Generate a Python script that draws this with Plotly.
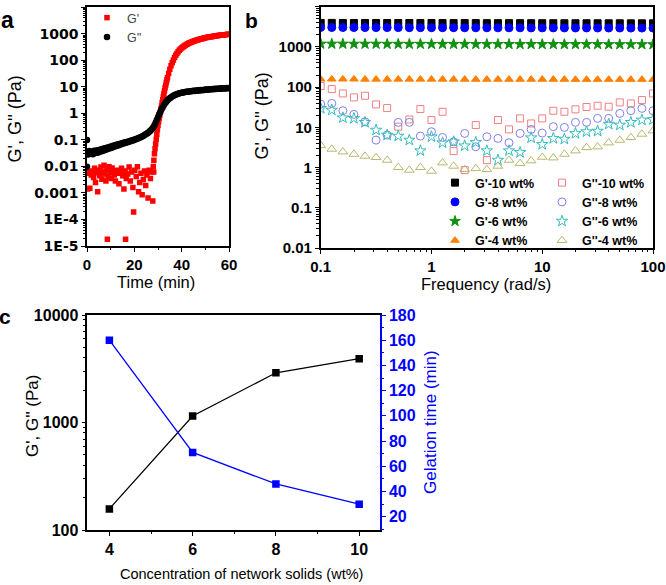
import plotly.graph_objects as go

# ---------------- Panel a: time sweep ----------------
a_gpp_time = [0, 0,
    0, 0.5, 1, 1.5, 2, 2.5, 3, 3.5, 4, 4.5,
    5, 5.5, 6, 6.5, 7, 7.5, 8, 8.5, 9, 9.5,
    10, 10.5, 11, 11.5, 12, 12.5, 13, 13.5, 14, 14.5,
    15, 15.5, 16, 16.5, 17, 17.5, 18, 18.5, 19, 19.5,
    20, 20.5, 21, 21.5, 22, 22.5, 23, 23.5, 24, 24.5,
    25, 25.5, 26, 26.5, 27, 27.5, 28, 28.5, 29, 29.5,
    30, 30.5, 31, 31.5, 32, 32.5, 33, 33.5, 34, 34.5,
    35, 35.5, 36, 36.5, 37, 37.5, 38, 38.5, 39, 39.5,
    40, 40.5, 41, 41.5, 42, 42.5, 43, 43.5, 44, 44.5,
    45, 45.5, 46, 46.5, 47, 47.5, 48, 48.5, 49, 49.5,
    50, 50.5, 51, 51.5, 52, 52.5, 53, 53.5, 54, 54.5,
    55, 55.5, 56, 56.5, 57, 57.5, 58, 58.5, 59, 59.5,
    60]
a_gpp_val = [0.1, 0.0098,
    0.036, 0.028, 0.038, 0.030, 0.035, 0.029, 0.039, 0.032, 0.040, 0.033,
    0.042, 0.036, 0.044, 0.038, 0.047, 0.041, 0.050, 0.044, 0.053, 0.047,
    0.057, 0.051, 0.060, 0.055, 0.064, 0.059, 0.068, 0.063, 0.072, 0.068,
    0.077, 0.073, 0.081, 0.078, 0.086, 0.083, 0.091, 0.089, 0.097, 0.096,
    0.104, 0.103, 0.111, 0.112, 0.120, 0.123, 0.131, 0.137, 0.146, 0.155,
    0.166, 0.178, 0.192, 0.21, 0.23, 0.26, 0.30, 0.36, 0.44, 0.56,
    0.72, 0.92, 1.15, 1.42, 1.72, 2.05, 2.4, 2.75, 3.1, 3.45,
    3.75, 4.05, 4.35, 4.6, 4.85, 5.1, 5.3, 5.5, 5.7, 5.85,
    6.0, 6.15, 6.3, 6.4, 6.5, 6.6, 6.7, 6.8, 6.9, 7.0,
    7.1, 7.0, 7.3, 7.2, 7.4, 7.3, 7.6, 7.5, 7.7, 7.6,
    7.9, 7.8, 8.0, 7.9, 8.2, 8.1, 8.3, 8.2, 8.4, 8.3,
    8.5, 8.4, 8.7, 8.5, 8.8, 8.6, 8.9, 8.7, 9.0, 8.8,
    9.1]

# G' before gelation (scattered noise)
a_gp_noise_time = [0.2, 0.3, 0.8, 1.2, 1.8, 2.2, 2.8, 3.2, 3.6, 4.1,
    4.5, 5.0, 5.4, 5.9, 6.3, 6.8, 7.2, 7.6, 8.0, 8.4,
    8.6, 8.9, 9.3, 9.8, 10.2, 10.6, 11.0, 11.5, 12.0, 12.4,
    12.9, 13.5, 14.0, 14.6, 15.1, 15.6, 16.1, 16.3, 16.6, 17.2,
    17.8, 18.3, 18.8, 19.4, 19.7, 20.2, 20.8, 21.3, 21.8, 22.3,
    22.8, 23.3, 23.8, 24.3, 24.8, 25.3, 25.8, 26.3, 26.8, 27.3,
    27.8, 28.2]
a_gp_noise_val = [0.0055, 0.0014, 0.0062, 0.0015, 0.0048, 0.0068, 0.0038, 0.0085, 0.0025, 0.0058,
    0.0011, 0.0072, 0.0045, 0.0095, 0.0033, 0.0062, 0.011, 0.0052, 0.0028, 0.0078,
    1.8e-5, 0.0042, 0.0098, 0.0058, 0.0035, 0.0088, 0.0066, 0.0048, 0.0028, 0.0072,
    0.0055, 0.0022, 0.0062, 0.0085, 0.0045, 0.0014, 0.0068, 1.8e-5, 0.0035, 0.0052,
    0.0095, 0.0028, 0.0062, 0.0016, 1.9e-4, 0.0072, 0.0042, 0.0098, 0.0011, 0.0025,
    0.0055, 0.00085, 0.0032, 0.0068, 0.0019, 0.0048, 0.00065, 0.0072, 0.0035, 0.0062,
    0.0005, 0.0062]

# G' after gelation onset
a_gp_time = [28, 28.25, 28.5, 28.75, 29, 29.25, 29.5, 29.75, 30, 30.25,
    30.5, 30.75, 31, 31.25, 31.5, 31.75, 32, 32.25, 32.5, 32.75,
    33, 33.25, 33.5, 33.75, 34, 34.5, 35, 35.5, 36, 36.5,
    37, 37.5, 38, 38.5, 39, 39.5, 40, 40.5, 41, 41.5,
    42, 42.5, 43, 43.5, 44, 44.5, 45, 45.5, 46, 46.5,
    47, 47.5, 48, 48.5, 49, 49.5, 50, 50.5, 51, 51.5,
    52, 52.5, 53, 53.5, 54, 54.5, 55, 55.5, 56, 56.5,
    57, 57.5, 58, 58.5, 59, 59.5, 60]
a_gp_val = [0.01, 0.017, 0.03, 0.046, 0.07, 0.105, 0.16, 0.24, 0.35, 0.48,
    0.65, 0.85, 1.1, 1.45, 1.9, 2.5, 3.3, 4.3, 5.6, 7.2,
    9.2, 11.6, 14.5, 18, 22, 32, 46, 62, 82, 104,
    128, 155, 182, 210, 238, 265, 292, 318, 343, 368,
    392, 415, 438, 460, 482, 503, 524, 544, 564, 583,
    602, 620, 638, 656, 673, 690, 706, 722, 738, 753,
    768, 782, 796, 810, 823, 836, 849, 862, 874, 886,
    898, 910, 921, 932, 943, 954, 965]

a_y_tickvals = [1e-5, 1e-4, 1e-3, 1e-2, 0.1, 1, 10, 100, 1000, 10000]
a_y_ticktext = ["1E-5", "1E-4", "0.001", "0.01", "0.1", "1", "10", "100", "1000", "10000"]

# ---------------- Panel b: frequency sweep ----------------
b_freq = [0.1, 0.1259, 0.1585, 0.1995, 0.2512, 0.3162, 0.3981, 0.5012, 0.631, 0.7943,
    1.0, 1.259, 1.585, 1.995, 2.512, 3.162, 3.981, 5.012, 6.31, 7.943,
    10.0, 12.59, 15.85, 19.95, 25.12, 31.62, 39.81, 50.12, 63.1, 79.43, 100.0]
b_gp_10 = [3950, 3950, 3940, 3940, 3940, 3930, 3930, 3930, 3920, 3920,
    3920, 3920, 3910, 3910, 3910, 3900, 3900, 3900, 3900, 3890,
    3890, 3890, 3880, 3880, 3880, 3870, 3870, 3870, 3860, 3860, 3860]
b_gp_8 = [3050, 3040, 3040, 3030, 3030, 3020, 3020, 3020, 3010, 3010,
    3000, 3000, 3000, 2990, 2990, 2990, 2980, 2980, 2980, 2970,
    2970, 2970, 2960, 2960, 2960, 2950, 2950, 2950, 2940, 2940, 2940]
b_gp_6 = [1190, 1190, 1190, 1185, 1185, 1185, 1180, 1180, 1180, 1180,
    1175, 1175, 1175, 1175, 1170, 1170, 1170, 1170, 1165, 1165,
    1165, 1165, 1160, 1160, 1160, 1160, 1155, 1155, 1155, 1155, 1150]
b_gp_4 = [158, 158, 158, 158, 157, 157, 157, 157, 157, 157,
    157, 157, 157, 156, 156, 156, 156, 156, 156, 156,
    156, 156, 156, 155, 155, 155, 155, 155, 155, 155, 155]
b_gpp_10 = [106, 89.5, 69.8, 55.6, 61.1, 37.2, 30.2, 10.4, 15.7, 28.5,
    15.2, 24.4, 2.57, 0.865, 11.4, 1.53, 15.2, 8.9, 16.7, 12.5,
    16.7, 25.9, 24.4, 28, 32, 34.5, 32.5, 41.7, 39.4, 47.7, 69.8]
b_gpp_8 = [37.9, 39.4, 25.9, 21.0, 13.8, 4.82, 6.42, 13.3, 13.3, 6.06,
    7.78, 5.62, 4.38, 7.06, 3.29, 5.84, 5.31, 4.14, 7.06, 8.89,
    7.2, 10.4, 9.96, 13.3, 13.3, 16.7, 16.7, 22.2, 25.9, 29.6, 25.9]
b_gpp_6 = [29.6, 26.9, 17.3, 16.7, 13.3, 8.55, 6.42, 6.06, 4.82, 2.62,
    5.84, 4.14, 4.38, 3.48, 4.22, 2.62, 1.53, 2.62, 2.38, 5.51,
    3.76, 5.31, 5.11, 7.06, 7.78, 8.07, 12.0, 11.4, 13.3, 15.2, 15.7]
b_gpp_4 = [3.55, 2.88, 2.47, 2.16, 1.93, 1.79, 1.53, 1.01, 0.865, 1.01,
    0.817, 1.32, 1.09, 0.90, 0.95, 0.90, 1.09, 1.53, 1.27, 1.48,
    1.82, 1.75, 2.16, 2.62, 3.17, 3.29, 4.14, 4.82, 5.62, 6.81, 8.22]

b_y_tickvals = [0.01, 0.1, 1, 10, 100, 1000, 10000]
b_y_ticktext = ["0.01", "0.1", "1", "10", "100", "1000", "10000"]
b_x_tickvals = [0.1, 1, 10, 100]
b_x_ticktext = ["0.1", "1", "10", "100"]

# ---------------- Panel c: summary ----------------
c_conc = [4, 6, 8, 10]
c_modulus = [157, 1150, 2900, 3920]
c_gel_time = [160, 71, 46, 30]
c_y_tickvals = [100, 1000, 10000]
c_y_ticktext = ["100", "1000", "10000"]

# ---------------- styling ----------------
W, H = 666, 585
FONT = "Liberation Sans, Arial, sans-serif"
BOLD = dict(family=FONT, weight="bold", color="black")


def px_x(p):
    return p / W


def px_y(p):
    return 1 - p / H


fig = go.Figure()

# Panel a
fig.add_trace(go.Scatter(x=a_gp_noise_time, y=a_gp_noise_val, mode="markers", name="G'",
                         marker=dict(symbol="square", size=5.5, color="#FF0000"),
                         xaxis="x", yaxis="y", legend="legend3"))
fig.add_trace(go.Scatter(x=a_gp_time, y=a_gp_val, mode="markers", name="G'", showlegend=False,
                         marker=dict(symbol="square", size=5.5, color="#FF0000"),
                         xaxis="x", yaxis="y", legend="legend3"))
fig.add_trace(go.Scatter(x=a_gpp_time, y=a_gpp_val, mode="markers", name="G''",
                         marker=dict(symbol="circle", size=6.5, color="#000000"),
                         xaxis="x", yaxis="y", legend="legend3"))

# Panel b
b_series = [
    ("G'-10 wt%", b_gp_10, "square", 7, "#000000", "legend"),
    ("G'-8 wt%", b_gp_8, "circle", 8, "#0000FF", "legend"),
    ("G'-6 wt%", b_gp_6, "star", 8, "#109010", "legend"),
    ("G'-4 wt%", b_gp_4, "triangle-up", 7.5, "#FF8000", "legend"),
    ("G''-10 wt%", b_gpp_10, "square-open", 7, "#F08080", "legend2"),
    ("G''-8 wt%", b_gpp_8, "circle-open", 8, "#8080EE", "legend2"),
    ("G''-6 wt%", b_gpp_6, "star-open", 8.5, "#33BBBB", "legend2"),
    ("G''-4 wt%", b_gpp_4, "triangle-up-open", 8.5, "#B8B870", "legend2"),
]
for name, vals, sym, size, col, leg in b_series:
    fig.add_trace(go.Scatter(x=b_freq, y=vals, mode="markers", name=name,
                             marker=dict(symbol=sym, size=size, color=col, line=dict(width=1, color=col)),
                             xaxis="x2", yaxis="y2", legend=leg))

# Panel c
fig.add_trace(go.Scatter(x=c_conc, y=c_modulus, mode="lines+markers", showlegend=False,
                         line=dict(color="#000000", width=1.3),
                         marker=dict(symbol="square", size=7.5, color="#000000"),
                         xaxis="x3", yaxis="y3"))
fig.add_trace(go.Scatter(x=c_conc, y=c_gel_time, mode="lines+markers", showlegend=False,
                         line=dict(color="#0000FF", width=1.3),
                         marker=dict(symbol="square", size=7.5, color="#0000FF"),
                         xaxis="x3", yaxis="y4"))

axis_common = dict(showline=True, linecolor="black", linewidth=1.5, showgrid=False, zeroline=False,
                   ticks="outside", ticklen=4, tickwidth=1.3, tickcolor="black", automargin=False)

fig.update_layout(
    width=W, height=H, margin=dict(l=0, r=0, t=0, b=0, autoexpand=False),
    paper_bgcolor="white", plot_bgcolor="white",
    xaxis=dict(**axis_common, domain=[px_x(87), px_x(229)], range=[0, 60], anchor="y",
               tickvals=[0, 20, 40, 60], mirror=True,
               minor=dict(ticks="outside", ticklen=2.5, dtick=10, tickcolor="black"),
               tickfont=dict(**BOLD, size=15)),
    yaxis=dict(**axis_common, domain=[px_y(246), px_y(7.3)], type="log", range=[-5, 4], anchor="x",
               tickvals=a_y_tickvals, ticktext=a_y_ticktext, mirror=True,
               minor=dict(ticks="outside", ticklen=2.5, dtick="D1", tickcolor="black"),
               tickfont=dict(family="DejaVu Sans", weight="bold", color="black", size=14)),
    xaxis2=dict(**axis_common, domain=[px_x(320.7), px_x(653)], type="log", range=[-1, 2], anchor="y2",
                tickvals=b_x_tickvals, ticktext=b_x_ticktext, mirror=True,
                minor=dict(ticks="outside", ticklen=2.5, dtick="D1", tickcolor="black"),
                tickfont=dict(**BOLD, size=15)),
    yaxis2=dict(**axis_common, domain=[px_y(248), px_y(6.7)], type="log", range=[-2, 4], anchor="x2",
                tickvals=b_y_tickvals, ticktext=b_y_ticktext, mirror=True,
                minor=dict(ticks="outside", ticklen=2.5, dtick="D1", tickcolor="black"),
                tickfont=dict(**BOLD, size=15)),
    xaxis3=dict(**axis_common, domain=[px_x(87.3), px_x(380)], range=[3.47, 10.5], anchor="y3",
                tickvals=c_conc, mirror=True,
                minor=dict(ticks="outside", ticklen=2.5, dtick=1, tickcolor="black"),
                tickfont=dict(**BOLD, size=16)),
    yaxis3=dict(**axis_common, domain=[px_y(530), px_y(315)], type="log", range=[2, 4], anchor="x3",
                tickvals=c_y_tickvals, ticktext=c_y_ticktext,
                minor=dict(ticks="outside", ticklen=2.5, dtick="D1", tickcolor="black"),
                tickfont=dict(**BOLD, size=16)),
    yaxis4=dict(showline=True, linecolor="#0000FF", linewidth=1.5, showgrid=False, zeroline=False,
                ticks="outside", ticklen=4, tickwidth=1.3, tickcolor="#0000FF", automargin=False,
                overlaying="y3", side="right", anchor="x3", range=[9.5, 180], dtick=20, tick0=0,
                minor=dict(ticks="outside", ticklen=2.5, dtick=10, tickcolor="#0000FF"),
                tickfont=dict(family=FONT, weight="bold", color="#0000FF", size=16)),
    legend=dict(x=px_x(435), y=px_y(168), xanchor="left", yanchor="top", bgcolor="rgba(0,0,0,0)",
                font=dict(family=FONT, weight="bold", size=12.5, color="black"), tracegroupgap=0),
    legend2=dict(x=px_x(542), y=px_y(168), xanchor="left", yanchor="top", bgcolor="rgba(0,0,0,0)",
                 font=dict(family=FONT, weight="bold", size=12.5, color="black"), tracegroupgap=0),
    legend3=dict(x=px_x(87), y=px_y(3), xanchor="left", yanchor="top", bgcolor="rgba(0,0,0,0)",
                 font=dict(family=FONT, size=12.5, color="#444444"), tracegroupgap=0),
)

title_font = dict(family=FONT, color="black")
annotations = [
    dict(text="G', G'' (Pa)", x=px_x(15), y=px_y(119.5), textangle=-90, font=dict(**title_font, size=18)),
    dict(text="Time (min)", x=px_x(156), y=px_y(282), font=dict(**title_font, size=16.5)),
    dict(text="G', G'' (Pa)", x=px_x(261.5), y=px_y(116), textangle=-90, font=dict(**title_font, size=18)),
    dict(text="Frequency (rad/s)", x=px_x(486), y=px_y(284), font=dict(**title_font, size=16.5)),
    dict(text="G', G'' (Pa)", x=px_x(32), y=px_y(416), textangle=-90, font=dict(**title_font, size=17)),
    dict(text="Gelation time (min)", x=px_x(430), y=px_y(422), textangle=-90,
         font=dict(family=FONT, color="#0000FF", size=17)),
    dict(text="Concentration of network solids (wt%)", x=px_x(241), y=px_y(574), font=dict(**title_font, size=14.5)),
    dict(text="a", x=px_x(7), y=px_y(20), font=dict(family=FONT, weight="bold", size=23, color="black")),
    dict(text="b", x=px_x(251), y=px_y(21), font=dict(family=FONT, weight="bold", size=21, color="black")),
    dict(text="c", x=px_x(5), y=px_y(316), font=dict(family=FONT, weight="bold", size=21, color="black")),
]
for a in annotations:
    a.update(xref="paper", yref="paper", showarrow=False, xanchor="center", yanchor="middle")
fig.update_layout(annotations=annotations)

fig.write_html("out.html", config={"displayModeBar": False},
               post_script="document.body.style.margin='0px';document.body.style.overflow='hidden';")
